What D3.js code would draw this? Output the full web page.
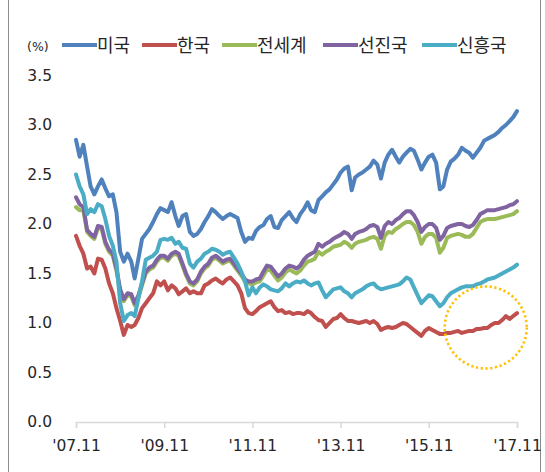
<!DOCTYPE html>
<html>
<head>
<meta charset="utf-8">
<script src="https://cdn.jsdelivr.net/npm/d3@7"></script>
<style>
    body { margin: 0; background: #fff; }
    svg { display: block; font-family: "DejaVu Sans", sans-serif; }
</style>
</head>
<body>
<svg id="chart" width="545" height="472"></svg>
<script>
// monthly values, '07.11 ~ '17.11
let startMonth = new Date(2007, 10, 1);

let seriesNames = ["미국", "한국", "전세계", "선진국", "신흥국"];
let seriesColors = ["#4f81bd", "#c0504d", "#9bbb59", "#8064a2", "#4bacc6"];

let usa = [2.85, 2.68, 2.80, 2.58, 2.38, 2.30, 2.38, 2.45, 2.36, 2.28, 2.30, 2.12, 1.72, 1.62, 1.70, 1.62, 1.45, 1.65, 1.85, 1.90,
    1.95, 2.02, 2.10, 2.16, 2.14, 2.12, 2.22, 2.08, 1.98, 2.08, 2.10, 1.92, 1.88, 1.90, 1.95, 2.02, 2.08, 2.15, 2.12, 2.08,
    2.05, 2.08, 2.10, 2.08, 2.06, 1.92, 1.82, 1.86, 1.85, 1.93, 1.97, 1.99, 2.05, 2.08, 1.97, 1.96, 2.04, 2.08, 2.12, 2.06,
    2.02, 2.10, 2.15, 2.22, 2.14, 2.12, 2.24, 2.28, 2.32, 2.35, 2.40, 2.45, 2.52, 2.56, 2.58, 2.34, 2.47, 2.50, 2.52, 2.55,
    2.58, 2.64, 2.60, 2.46, 2.62, 2.70, 2.75, 2.68, 2.62, 2.68, 2.72, 2.76, 2.74, 2.65, 2.55, 2.62, 2.68, 2.70, 2.62, 2.35,
    2.38, 2.55, 2.63, 2.66, 2.70, 2.77, 2.74, 2.72, 2.67, 2.72, 2.77, 2.84, 2.86, 2.88, 2.90, 2.93, 2.97, 3.00, 3.04, 3.08, 3.14];

let korea = [1.88, 1.78, 1.70, 1.55, 1.57, 1.50, 1.65, 1.64, 1.55, 1.40, 1.30, 1.15, 1.02, 0.88, 0.98, 0.96, 0.98, 1.05, 1.15, 1.20,
    1.25, 1.30, 1.42, 1.38, 1.42, 1.33, 1.38, 1.35, 1.29, 1.32, 1.35, 1.30, 1.32, 1.30, 1.30, 1.38, 1.40, 1.43, 1.45, 1.42,
    1.40, 1.44, 1.46, 1.42, 1.38, 1.30, 1.15, 1.10, 1.09, 1.12, 1.16, 1.18, 1.20, 1.22, 1.16, 1.12, 1.13, 1.10, 1.11, 1.09,
    1.10, 1.10, 1.09, 1.12, 1.10, 1.06, 1.03, 1.02, 0.96, 1.00, 1.04, 1.05, 1.09, 1.05, 1.02, 1.02, 1.01, 1.00, 1.01, 1.02,
    1.00, 1.02, 0.99, 0.93, 0.95, 0.96, 0.95, 0.96, 0.98, 1.00, 0.99, 0.96, 0.93, 0.90, 0.87, 0.92, 0.95, 0.93, 0.91, 0.89,
    0.89, 0.90, 0.90, 0.91, 0.92, 0.90, 0.91, 0.92, 0.92, 0.94, 0.94, 0.95, 0.95, 0.98, 1.00, 1.00, 1.03, 1.07, 1.04, 1.07, 1.10];

let world = [2.17, 2.14, 2.14, 1.92, 1.88, 1.85, 1.96, 1.95, 1.80, 1.72, 1.68, 1.53, 1.32, 1.22, 1.28, 1.27, 1.18, 1.26, 1.38, 1.50,
    1.54, 1.56, 1.62, 1.66, 1.66, 1.63, 1.68, 1.70, 1.68, 1.58, 1.48, 1.40, 1.38, 1.42, 1.50, 1.55, 1.58, 1.64, 1.66, 1.63,
    1.60, 1.62, 1.63, 1.58, 1.53, 1.48, 1.42, 1.40, 1.39, 1.41, 1.42, 1.48, 1.54, 1.53, 1.48, 1.43, 1.46, 1.51, 1.54, 1.52,
    1.50, 1.53, 1.58, 1.62, 1.63, 1.65, 1.72, 1.69, 1.72, 1.74, 1.77, 1.78, 1.79, 1.82, 1.80, 1.76, 1.80, 1.82, 1.83, 1.84,
    1.86, 1.87, 1.85, 1.75, 1.88, 1.92, 1.91, 1.95, 1.97, 2.00, 2.02, 2.02, 1.99, 1.92, 1.80, 1.87, 1.90, 1.90, 1.86, 1.71,
    1.76, 1.86, 1.88, 1.89, 1.90, 1.89, 1.87, 1.87, 1.90, 1.96, 2.02, 2.04, 2.05, 2.05, 2.05, 2.06, 2.07, 2.08, 2.09, 2.10, 2.13];

let developed = [2.27, 2.20, 2.17, 1.94, 1.90, 1.87, 1.98, 1.97, 1.82, 1.74, 1.70, 1.55, 1.34, 1.24, 1.30, 1.29, 1.20, 1.28, 1.40, 1.52,
    1.56, 1.58, 1.64, 1.68, 1.68, 1.65, 1.70, 1.72, 1.70, 1.60, 1.50, 1.42, 1.40, 1.44, 1.52, 1.57, 1.60, 1.66, 1.68, 1.65,
    1.62, 1.64, 1.65, 1.60, 1.55, 1.50, 1.44, 1.42, 1.42, 1.44, 1.45, 1.52, 1.58, 1.57, 1.52, 1.47, 1.50, 1.55, 1.58, 1.57,
    1.55, 1.58, 1.64, 1.68, 1.70, 1.72, 1.80, 1.77, 1.80, 1.82, 1.85, 1.87, 1.89, 1.92, 1.90, 1.85, 1.90, 1.92, 1.93, 1.95,
    1.98, 1.99, 1.97, 1.86, 1.98, 2.02, 2.00, 2.04, 2.06, 2.10, 2.13, 2.13, 2.09, 2.02, 1.92, 1.97, 2.00, 2.00, 1.96, 1.84,
    1.88, 1.96, 1.98, 1.99, 2.00, 2.00, 1.98, 1.97, 1.99, 2.04, 2.10, 2.12, 2.14, 2.14, 2.14, 2.15, 2.16, 2.17, 2.19, 2.20, 2.23];

let emerging = [2.50, 2.38, 2.30, 2.10, 2.15, 2.12, 2.20, 2.18, 2.05, 1.88, 1.78, 1.62, 1.20, 1.02, 1.08, 1.10, 1.07, 1.25, 1.42, 1.64,
    1.66, 1.68, 1.72, 1.84, 1.85, 1.84, 1.86, 1.80, 1.82, 1.76, 1.75, 1.60, 1.56, 1.62, 1.65, 1.70, 1.72, 1.75, 1.74, 1.72,
    1.69, 1.71, 1.72, 1.66, 1.60, 1.52, 1.42, 1.28, 1.36, 1.30, 1.36, 1.39, 1.37, 1.34, 1.33, 1.32, 1.35, 1.40, 1.37, 1.40,
    1.42, 1.41, 1.43, 1.40, 1.38, 1.40, 1.41, 1.33, 1.26, 1.30, 1.34, 1.35, 1.36, 1.32, 1.30, 1.26, 1.30, 1.32, 1.34, 1.37,
    1.39, 1.40, 1.36, 1.34, 1.35, 1.36, 1.37, 1.38, 1.39, 1.42, 1.46, 1.44, 1.36, 1.28, 1.20, 1.24, 1.28, 1.27, 1.22, 1.17,
    1.20, 1.26, 1.30, 1.32, 1.34, 1.36, 1.37, 1.37, 1.37, 1.39, 1.40, 1.42, 1.44, 1.45, 1.46, 1.48, 1.50, 1.52, 1.54, 1.56, 1.59];

let yTicks = [0, 0.5, 1.0, 1.5, 2.0, 2.5, 3.0, 3.5];
let xTickYears = [2007, 2009, 2011, 2013, 2015, 2017];

// dotted circle around korea's recent part
let markDate = new Date(2017, 1, 15);
let markValue = 0.955;
let markRadius = 41;

let allSeries = [usa, korea, world, developed, emerging];

let svg = d3.select("#chart");

// frame
svg.append("line").attr("x1", 8.5).attr("x2", 8.5).attr("y1", 0).attr("y2", 472)
    .attr("stroke", "#8c8c8c").attr("stroke-width", 1);
svg.append("line").attr("x1", 540.5).attr("x2", 540.5).attr("y1", 0).attr("y2", 472)
    .attr("stroke", "#8c8c8c").attr("stroke-width", 1);

let x = d3.scaleTime()
    .domain([startMonth, new Date(2017, 10, 1)])
    .range([76, 517]);

let y = d3.scaleLinear()
    .domain([0, 3.5])
    .range([422, 75.5]);

// y axis labels only
let yAxis = svg.append("g")
    .attr("transform", "translate(56,0)")
    .call(d3.axisLeft(y).tickValues(yTicks).tickFormat(d3.format(".1f")).tickSize(0).tickPadding(4));
yAxis.select(".domain").remove();
yAxis.selectAll("text")
    .attr("font-size", 15.5)
    .attr("font-family", "DejaVu Sans, sans-serif")
    .attr("fill", "#262626");

// x axis
let xAxis = svg.append("g")
    .attr("transform", "translate(0,422)")
    .call(d3.axisBottom(x)
        .tickValues(xTickYears.map(function (yr) { return new Date(yr, 10, 1); }))
        .tickFormat(function (d) { return "'" + d3.timeFormat("%y.%m")(d); })
        .tickSizeOuter(0)
        .tickSize(6)
        .tickPadding(12));
xAxis.select(".domain").attr("stroke", "#d9d9d9").attr("stroke-width", 1.5);
xAxis.selectAll(".tick line").attr("stroke", "#d9d9d9").attr("stroke-width", 1.5);
xAxis.selectAll("text")
    .attr("font-size", 15.5)
    .attr("font-family", "DejaVu Sans, sans-serif")
    .attr("fill", "#262626");

let line = d3.line()
    .x(function (d, i) { return x(d3.timeMonth.offset(startMonth, i)); })
    .y(function (d) { return y(d); });

svg.append("g")
    .attr("class", "lines")
    .selectAll("path")
    .data(allSeries)
    .enter()
    .append("path")
    .attr("d", line)
    .attr("fill", "none")
    .attr("stroke", function (d, i) { return seriesColors[i]; })
    .attr("stroke-width", 4)
    .attr("stroke-linejoin", "round")
    .attr("stroke-linecap", "round");

// annotation circle
svg.append("circle")
    .attr("cx", x(markDate))
    .attr("cy", y(markValue))
    .attr("r", markRadius)
    .attr("fill", "none")
    .attr("stroke", "#ffc000")
    .attr("stroke-width", 2.6)
    .attr("stroke-dasharray", "2.2 2.6");

// legend
svg.append("text")
    .attr("x", 27)
    .attr("y", 51)
    .attr("font-size", 12.5)
    .attr("fill", "#262626")
    .text("(%)");

let legendX = [62, 142, 222, 323, 422];
let legend = svg.append("g").attr("class", "legend")
    .selectAll("g")
    .data(seriesNames)
    .enter()
    .append("g")
    .attr("transform", function (d, i) { return "translate(" + legendX[i] + ",45)"; });

legend.append("line")
    .attr("x1", 0).attr("x2", 35)
    .attr("stroke", function (d, i) { return seriesColors[i]; })
    .attr("stroke-width", 4);

legend.append("text")
    .attr("x", 35)
    .attr("y", 6.5)
    .attr("font-size", 18)
    .attr("font-family", "Noto Sans CJK KR, sans-serif")
    .attr("fill", "#262626")
    .text(function (d) { return d; });
</script>
</body>
</html>
